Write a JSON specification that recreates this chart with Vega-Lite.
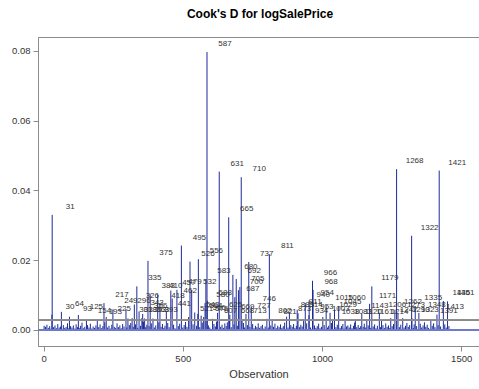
{
"$schema": "https://vega.github.io/schema/vega-lite/v6.json",
"autosize": {"type": "none"},
"padding": {"left": 38, "top": 37, "right": 0, "bottom": 43},
"width": 441,
"height": 309,
"background": "white",
"title": {"text": "Cook's D for logSalePrice", "fontSize": 12, "fontWeight": "bold", "font": "Liberation Sans", "color": "#000000", "baseline": "alphabetic", "offset": 7, "dx": 1.5},
"datasets": {
"cook": [
{"o":30,"d":0.0044},{"o":31,"d":0.0330},{"o":64,"d":0.0052},{"o":93,"d":0.0038},{"o":125,"d":0.0043},{"o":154,"d":0.0030},{"o":193,"d":0.0029},{"o":217,"d":0.0077},{"o":225,"d":0.0037},{"o":249,"d":0.0059},{"o":296,"d":0.0060},{"o":303,"d":0.0033},{"o":318,"d":0.0034},{"o":326,"d":0.0073},{"o":335,"d":0.0125},{"o":343,"d":0.0053},{"o":353,"d":0.0034},{"o":356,"d":0.0046},{"o":363,"d":0.0033},{"o":375,"d":0.0198},{"o":383,"d":0.0102},{"o":393,"d":0.0033},{"o":410,"d":0.0102},{"o":418,"d":0.0075},{"o":441,"d":0.0052},{"o":457,"d":0.0113},{"o":462,"d":0.0090},{"o":479,"d":0.0115},{"o":495,"d":0.0242},{"o":521,"d":0.0037},{"o":526,"d":0.0196},{"o":532,"d":0.0115},{"o":543,"d":0.0050},{"o":554,"d":0.0046},{"o":556,"d":0.0203},{"o":566,"d":0.0041},{"o":575,"d":0.0037},{"o":580,"d":0.0077},{"o":583,"d":0.0146},{"o":587,"d":0.0797},{"o":588,"d":0.0084},{"o":607,"d":0.0032},{"o":625,"d":0.0049},{"o":631,"d":0.0454},{"o":665,"d":0.0323},{"o":668,"d":0.0032},{"o":669,"d":0.0044},{"o":680,"d":0.0158},{"o":687,"d":0.0094},{"o":692,"d":0.0146},{"o":700,"d":0.0114},{"o":705,"d":0.0123},{"o":710,"d":0.0438},{"o":713,"d":0.0030},{"o":727,"d":0.0046},{"o":737,"d":0.0195},{"o":746,"d":0.0066},{"o":802,"d":0.0032},{"o":811,"d":0.0217},{"o":821,"d":0.0028},{"o":873,"d":0.0038},{"o":883,"d":0.0049},{"o":911,"d":0.0058},{"o":914,"d":0.0048},{"o":934,"d":0.0030},{"o":940,"d":0.0077},{"o":953,"d":0.0042},{"o":954,"d":0.0084},{"o":966,"d":0.0141},{"o":968,"d":0.0115},{"o":1003,"d":0.0037},{"o":1015,"d":0.0068},{"o":1029,"d":0.0049},{"o":1038,"d":0.0029},{"o":1045,"d":0.0058},{"o":1060,"d":0.0068},{"o":1083,"d":0.0029},{"o":1120,"d":0.0029},{"o":1143,"d":0.0047},{"o":1161,"d":0.0029},{"o":1171,"d":0.0075},{"o":1179,"d":0.0125},{"o":1206,"d":0.0049},{"o":1214,"d":0.0029},{"o":1247,"d":0.0034},{"o":1262,"d":0.0058},{"o":1268,"d":0.0461},{"o":1273,"d":0.0049},{"o":1290,"d":0.0034},{"o":1322,"d":0.0270},{"o":1323,"d":0.0034},{"o":1335,"d":0.0068},{"o":1348,"d":0.0049},{"o":1391,"d":0.0030},{"o":1413,"d":0.0044},{"o":1421,"d":0.0457},{"o":1436,"d":0.0083},{"o":1451,"d":0.0082},
{"o":2,"d":0.0012},{"o":7,"d":0.0009},{"o":12,"d":0.0015},{"o":17,"d":0.0006},{"o":22,"d":0.0011},{"o":27,"d":0.0004},{"o":36,"d":0.0008},{"o":41,"d":0.0013},{"o":46,"d":0.0005},{"o":51,"d":0.0017},{"o":56,"d":0.0007},{"o":61,"d":0.0010},{"o":66,"d":0.0003},{"o":71,"d":0.0014},{"o":76,"d":0.0006},{"o":81,"d":0.0009},{"o":86,"d":0.0019},{"o":91,"d":0.0005},{"o":97,"d":0.0011},{"o":102,"d":0.0007},{"o":107,"d":0.0013},{"o":112,"d":0.0004},{"o":117,"d":0.0016},{"o":122,"d":0.0008},{"o":128,"d":0.0006},{"o":133,"d":0.0012},{"o":138,"d":0.0021},{"o":143,"d":0.0005},{"o":148,"d":0.0009},{"o":158,"d":0.0014},{"o":163,"d":0.0007},{"o":168,"d":0.0018},{"o":173,"d":0.0004},{"o":178,"d":0.0010},{"o":183,"d":0.0006},{"o":188,"d":0.0013},{"o":198,"d":0.0008},{"o":203,"d":0.0016},{"o":208,"d":0.0005},{"o":213,"d":0.0011},{"o":220,"d":0.0022},{"o":230,"d":0.0007},{"o":235,"d":0.0012},{"o":240,"d":0.0004},{"o":245,"d":0.0015},{"o":254,"d":0.0009},{"o":259,"d":0.0006},{"o":264,"d":0.0019},{"o":269,"d":0.0008},{"o":274,"d":0.0013},{"o":279,"d":0.0005},{"o":284,"d":0.0017},{"o":289,"d":0.0010},{"o":299,"d":0.0007},{"o":308,"d":0.0014},{"o":313,"d":0.0020},{"o":322,"d":0.0009},{"o":330,"d":0.0016},{"o":338,"d":0.0006},{"o":348,"d":0.0012},{"o":359,"d":0.0024},{"o":367,"d":0.0008},{"o":371,"d":0.0015},{"o":379,"d":0.0011},{"o":387,"d":0.0019},{"o":398,"d":0.0007},{"o":403,"d":0.0013},{"o":414,"d":0.0022},{"o":422,"d":0.0009},{"o":427,"d":0.0017},{"o":432,"d":0.0006},{"o":436,"d":0.0012},{"o":446,"d":0.0020},{"o":451,"d":0.0008},{"o":467,"d":0.0015},{"o":472,"d":0.0005},{"o":484,"d":0.0011},{"o":489,"d":0.0018},{"o":500,"d":0.0007},{"o":505,"d":0.0014},{"o":510,"d":0.0023},{"o":515,"d":0.0009},{"o":537,"d":0.0016},{"o":549,"d":0.0012},{"o":561,"d":0.0008},{"o":570,"d":0.0021},{"o":592,"d":0.0013},{"o":597,"d":0.0007},{"o":612,"d":0.0017},{"o":617,"d":0.0010},{"o":621,"d":0.0024},{"o":636,"d":0.0009},{"o":641,"d":0.0015},{"o":646,"d":0.0006},{"o":651,"d":0.0019},{"o":656,"d":0.0011},{"o":660,"d":0.0022},{"o":674,"d":0.0008},{"o":684,"d":0.0016},{"o":696,"d":0.0012},{"o":718,"d":0.0020},{"o":722,"d":0.0007},{"o":732,"d":0.0014},{"o":741,"d":0.0009},{"o":751,"d":0.0017},{"o":756,"d":0.0005},{"o":761,"d":0.0012},{"o":766,"d":0.0008},{"o":771,"d":0.0019},{"o":776,"d":0.0006},{"o":781,"d":0.0011},{"o":786,"d":0.0015},{"o":791,"d":0.0004},{"o":796,"d":0.0010},{"o":807,"d":0.0007},{"o":816,"d":0.0013},{"o":826,"d":0.0009},{"o":831,"d":0.0018},{"o":836,"d":0.0005},{"o":841,"d":0.0012},{"o":846,"d":0.0008},{"o":851,"d":0.0016},{"o":856,"d":0.0006},{"o":861,"d":0.0011},{"o":866,"d":0.0021},{"o":878,"d":0.0007},{"o":888,"d":0.0014},{"o":893,"d":0.0009},{"o":898,"d":0.0017},{"o":903,"d":0.0006},{"o":908,"d":0.0012},{"o":919,"d":0.0008},{"o":924,"d":0.0015},{"o":929,"d":0.0010},{"o":945,"d":0.0019},{"o":959,"d":0.0007},{"o":973,"d":0.0013},{"o":978,"d":0.0006},{"o":983,"d":0.0011},{"o":988,"d":0.0018},{"o":993,"d":0.0005},{"o":998,"d":0.0009},{"o":1008,"d":0.0014},{"o":1020,"d":0.0007},{"o":1024,"d":0.0012},{"o":1034,"d":0.0020},{"o":1050,"d":0.0008},{"o":1055,"d":0.0015},{"o":1065,"d":0.0006},{"o":1070,"d":0.0011},{"o":1075,"d":0.0017},{"o":1079,"d":0.0004},{"o":1088,"d":0.0010},{"o":1093,"d":0.0013},{"o":1098,"d":0.0007},{"o":1103,"d":0.0016},{"o":1108,"d":0.0005},{"o":1113,"d":0.0012},{"o":1117,"d":0.0021},{"o":1125,"d":0.0008},{"o":1130,"d":0.0014},{"o":1135,"d":0.0006},{"o":1139,"d":0.0011},{"o":1148,"d":0.0009},{"o":1152,"d":0.0018},{"o":1157,"d":0.0007},{"o":1166,"d":0.0013},{"o":1175,"d":0.0006},{"o":1184,"d":0.0010},{"o":1189,"d":0.0016},{"o":1194,"d":0.0005},{"o":1199,"d":0.0012},{"o":1210,"d":0.0008},{"o":1219,"d":0.0014},{"o":1224,"d":0.0006},{"o":1229,"d":0.0019},{"o":1234,"d":0.0009},{"o":1239,"d":0.0013},{"o":1243,"d":0.0005},{"o":1252,"d":0.0011},{"o":1257,"d":0.0017},{"o":1278,"d":0.0008},{"o":1283,"d":0.0015},{"o":1295,"d":0.0007},{"o":1300,"d":0.0012},{"o":1305,"d":0.0020},{"o":1310,"d":0.0009},{"o":1315,"d":0.0014},{"o":1328,"d":0.0006},{"o":1331,"d":0.0016},{"o":1340,"d":0.0011},{"o":1353,"d":0.0018},{"o":1358,"d":0.0007},{"o":1363,"d":0.0013},{"o":1368,"d":0.0022},{"o":1373,"d":0.0009},{"o":1378,"d":0.0015},{"o":1383,"d":0.0006},{"o":1396,"d":0.0012},{"o":1401,"d":0.0019},{"o":1406,"d":0.0008},{"o":1417,"d":0.0014},{"o":1426,"d":0.0010},{"o":1441,"d":0.0016},{"o":1446,"d":0.0007},{"o":1456,"d":0.0011}
]
},
"data": {"name": "cook"},
"encoding": {
  "x": {"field": "o", "type": "quantitative", "scale": {"domain": [-20, 1564], "nice": false, "zero": false},
        "axis": {"values": [0, 500, 1000, 1500], "format": "d", "title": "Observation", "labelPadding": 2, "titlePadding": 6}},
  "y": {"field": "d", "type": "quantitative", "scale": {"domain": [-0.0046, 0.084], "nice": false, "zero": false},
        "axis": {"values": [0, 0.02, 0.04, 0.06, 0.08], "format": ".2f", "title": null, "labelPadding": 3}}
},
"layer": [
  {"mark": {"type": "rule", "color": "#1e2b9b", "strokeWidth": 1},
   "encoding": {"y2": {"datum": 0}}},
  {"mark": {"type": "rule", "color": "#6f7ccc", "strokeWidth": 1},
   "encoding": {"x": {"value": 0}, "x2": {"value": 441}, "y": {"datum": 0}}},
  {"mark": {"type": "rule", "color": "#8a8a8a", "strokeWidth": 1},
   "encoding": {"x": {"value": 0}, "x2": {"value": 441}, "y": {"datum": 0.00274}}},
  {"transform": [{"filter": "datum.d > 0.0026"}],
   "mark": {"type": "text", "align": "center", "baseline": "middle", "dx": 18, "dy": -8, "fontSize": 8, "font": "Liberation Sans", "color": "#333333"},
   "encoding": {"text": {"field": "o", "type": "quantitative", "format": "d"}}}
],
"config": {
  "view": {"stroke": "#8c8c8c"},
  "axis": {"grid": false, "domainColor": "#8c8c8c", "tickColor": "#8c8c8c", "tickSize": 5,
           "labelFont": "Liberation Sans", "labelFontSize": 9.5, "labelColor": "#333333",
           "titleFont": "Liberation Sans", "titleFontSize": 11, "titleFontWeight": "normal", "titleColor": "#333333"}
}
}
